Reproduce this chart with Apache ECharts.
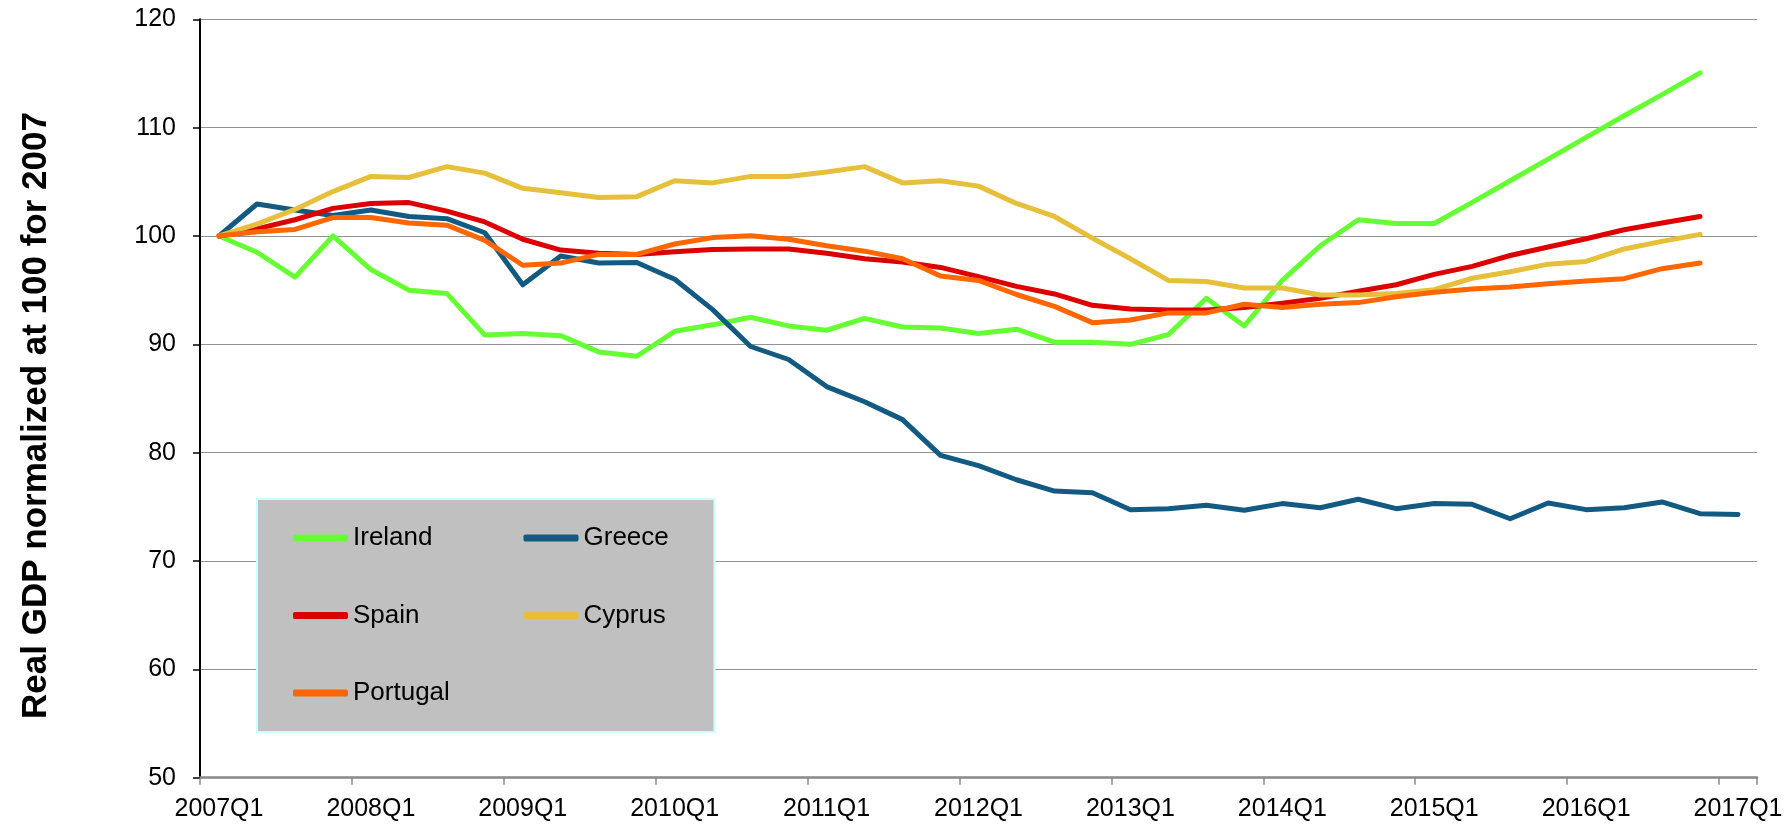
<!DOCTYPE html>
<html>
<head>
<meta charset="utf-8">
<style>
html,body{margin:0;padding:0;background:#fff;}
#chart{width:1790px;height:824px;}
</style>
<script src="https://cdn.jsdelivr.net/npm/echarts@6/dist/echarts.min.js"></script>
</head>
<body>
<div id="chart"></div>
<script>
const quarters = [];
for (let y = 2007; y <= 2017; y++) {
  for (let q = 1; q <= 4; q++) {
    if (y === 2017 && q > 1) break;
    quarters.push(y + 'Q' + q);
  }
}

const yTicks = [50, 60, 70, 80, 90, 100, 110, 120];

const ireland = [100, 98.5, 96.2, 100, 96.9, 95.0, 94.7, 90.85, 91.0, 90.8,
  89.3, 88.9, 91.2, 91.8, 92.5, 91.7, 91.3, 92.4, 91.6, 91.5,
  91.0, 91.4, 90.2, 90.2, 90.0, 90.9, 94.25, 91.7, 95.9, 99.1,
  101.5, 101.15, 101.15, 103.1, 105.1, 107.1, 109.1, 111.1, 113.05, 115.05];

const greece = [100, 102.95, 102.4, 101.9, 102.4, 101.8, 101.6, 100.3, 95.5, 98.15,
  97.5, 97.55, 96.0, 93.2, 89.8, 88.6, 86.1, 84.7, 83.05, 79.75,
  78.8, 77.5, 76.46, 76.3, 74.74, 74.83, 75.14, 74.68, 75.3, 74.92,
  75.7, 74.83, 75.3, 75.23, 73.9, 75.35, 74.74, 74.92, 75.45, 74.37, 74.3];

const spain = [100, 100.65, 101.5, 102.55, 103.0, 103.08, 102.3, 101.3, 99.7, 98.7,
  98.4, 98.3, 98.55, 98.75, 98.8, 98.8, 98.4, 97.9, 97.6, 97.1,
  96.25, 95.35, 94.65, 93.6, 93.26, 93.17, 93.17, 93.4, 93.8, 94.25,
  94.9, 95.5, 96.46, 97.2, 98.2, 98.98, 99.75, 100.58, 101.2, 101.8];

const cyprus = [100, 101.1, 102.45, 104.1, 105.5, 105.4, 106.4, 105.8, 104.4, 104.0,
  103.55, 103.63, 105.1, 104.9, 105.5, 105.5, 105.9, 106.4, 104.9, 105.1,
  104.6, 103.0, 101.8, 99.8, 97.9, 95.9, 95.8, 95.2, 95.2, 94.55,
  94.55, 94.7, 95.05, 96.1, 96.7, 97.4, 97.65, 98.8, 99.5, 100.15];

const portugal = [100, 100.4, 100.6, 101.7, 101.7, 101.2, 101.0, 99.6, 97.3, 97.5,
  98.3, 98.3, 99.26, 99.85, 100.03, 99.7, 99.1, 98.6, 97.9, 96.3,
  95.9, 94.6, 93.5, 92.0, 92.25, 92.9, 92.9, 93.7, 93.4, 93.7,
  93.85, 94.4, 94.8, 95.1, 95.3, 95.6, 95.85, 96.06, 96.98, 97.5];

const seriesNames = ['Ireland', 'Greece', 'Spain', 'Cyprus', 'Portugal'];
const seriesData = [ireland, greece, spain, cyprus, portugal];
const seriesColors = ['#66FF33', '#125A82', '#DD0000', '#E6C03A', '#FF6600'];

const FONT = '"Liberation Sans", Arial, sans-serif';

const chart = echarts.init(document.getElementById('chart'));
chart.setOption({
  animation: false,
  backgroundColor: '#ffffff',
  grid: { left: 200, right: 33, top: 19.3, bottom: 46.3, containLabel: false },
  legend: {
    data: ['Ireland', 'Spain', 'Portugal', 'Greece', 'Cyprus'],
    orient: 'vertical',
    left: 257,
    top: 499,
    height: 200,
    itemGap: 47.5,
    itemWidth: 55,
    itemHeight: 7,
    icon: 'roundRect',
    padding: [24, 8, 24, 36],
    backgroundColor: '#C0C0C0',
    borderColor: '#CCFFFF',
    borderWidth: 2,
    borderRadius: 0,
    textStyle: { fontFamily: FONT, fontSize: 26, color: '#000', width: 123, lineHeight: 30 }
  },
  xAxis: {
    type: 'category',
    data: quarters,
    boundaryGap: true,
    axisLine: { lineStyle: { color: '#888888', width: 2.5 } },
    axisTick: { show: true, interval: 3, length: 7, lineStyle: { color: '#888888', width: 1.5 } },
    axisLabel: { interval: 3, margin: 19, fontFamily: FONT, fontSize: 25, color: '#000' },
    splitLine: { show: false }
  },
  yAxis: {
    type: 'value',
    min: yTicks[0],
    max: yTicks[yTicks.length - 1],
    interval: 10,
    name: 'Real GDP normalized at 100 for 2007',
    nameLocation: 'middle',
    nameRotate: 90,
    nameGap: 146,
    nameTextStyle: { fontFamily: FONT, fontSize: 35, fontWeight: 'bold', color: '#000', padding: [0, 34, 0, 0] },
    axisLine: { show: true, lineStyle: { color: '#000', width: 2 } },
    axisTick: { show: true, length: 7, lineStyle: { color: '#000', width: 1.5 } },
    axisLabel: { margin: 24, fontFamily: FONT, fontSize: 25, color: '#000' },
    splitLine: { show: true, lineStyle: { color: '#929292', width: 1.2 } }
  },
  series: seriesNames.map((n, k) => ({
    name: n,
    type: 'line',
    data: seriesData[k],
    symbol: 'none',
    color: seriesColors[k],
    lineStyle: { width: 5, color: seriesColors[k], cap: 'round', join: 'round' },
    emphasis: { disabled: true }
  }))
});
</script>
</body>
</html>
